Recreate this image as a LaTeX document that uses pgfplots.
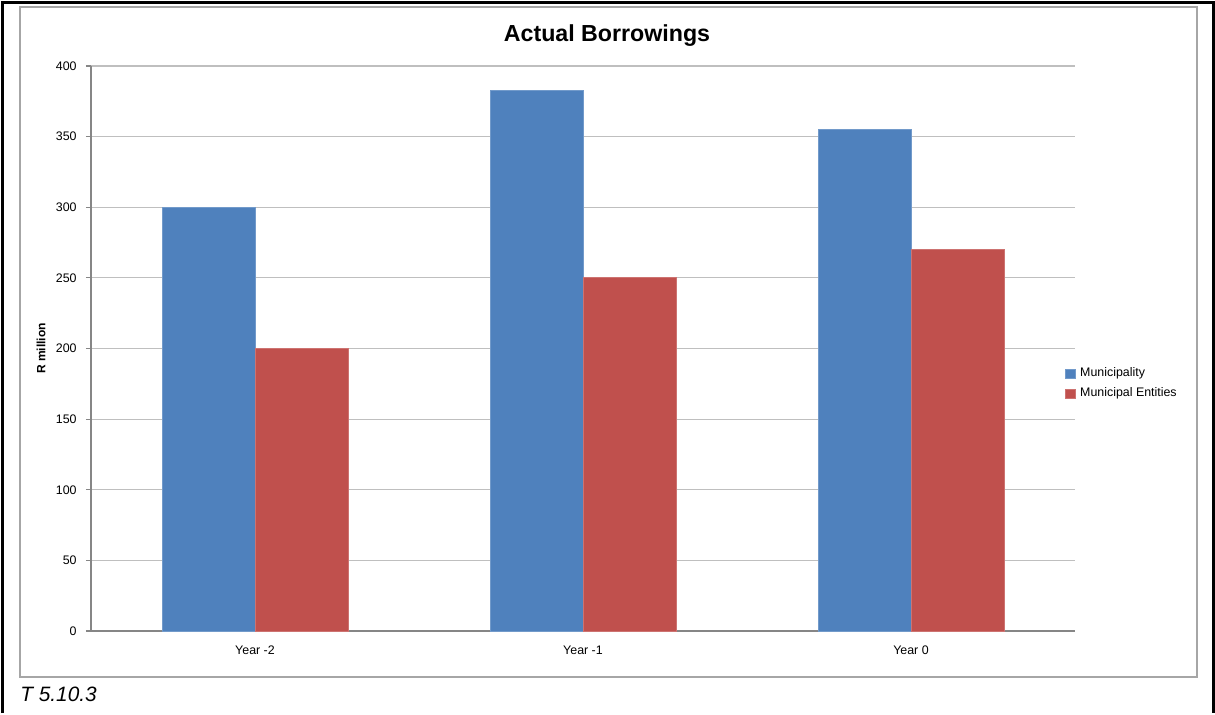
\documentclass[border=0pt]{standalone}
\usepackage{fontspec}
\setmainfont{Liberation Sans}
\usepackage{pgfplots}
\pgfplotsset{compat=1.18}
\definecolor{cblue}{HTML}{4F81BD}
\definecolor{cred}{HTML}{C0504D}
\definecolor{axisgrey}{HTML}{868686}
\definecolor{gridgrey}{HTML}{BFBFBF}
\definecolor{framegrey}{HTML}{A6A6A6}
\begin{document}
\begin{tikzpicture}
% page extent: 1 px = 0.5pt, axis origin at px (91,631)
\path[fill=white] (-45.5pt,-40pt) rectangle (562pt,315.5pt);
\draw[black,line width=1.5pt] (-44.25pt,-41pt) -- (-44.25pt,314.25pt) -- (561pt,314.25pt) -- (561pt,-41pt);
\draw[framegrey,line width=0.75pt] (-35.5pt,-23pt) rectangle (553pt,312pt);
\begin{axis}[
  at={(0,0)}, anchor=south west,
  scale only axis,
  width=492pt, height=282.5pt,
  ymin=0, ymax=400,
  xmin=-0.5, xmax=2.5,
  ytick={0,50,...,400},
  xtick={0,1,2},
  xticklabels={Year -2,Year -1,Year 0},
  ybar=0pt,
  bar width=46.5pt,
  axis x line*=bottom,
  axis y line*=left,
  axis line style={axisgrey,line width=0.75pt},
  ymajorgrids,
  grid style={gridgrey,line width=0.6pt},
  major y tick style={axisgrey,line width=0.6pt},
  major x tick style={draw=none},
  tick align=outside,
  major tick length=2.5pt,
  /pgf/number format/assume math mode=true,
  ticklabel style={font=\fontsize{6.2}{7}\selectfont, text=black},
  yticklabel style={inner sep=0pt, xshift=-4.5pt},
  xticklabel style={inner sep=0pt, text height=4.6pt, text depth=1.3pt, yshift=-4.6pt},
  ylabel={\textbf{R million}},
  ylabel style={font=\fontsize{6}{7}\selectfont, at={(axis description cs:-0.0508,0.5)}, anchor=center},
  legend style={draw=none, fill=none, at={(1.0,0.5)}, anchor=west, xshift=-5pt, yshift=-17.5pt,
    font=\fontsize{6.2}{7}\selectfont, row sep=0pt, inner sep=0pt},
  legend cell align=left,
  legend image code/.code={\fill[#1] (0pt,-2.2pt) rectangle (5pt,2.2pt);},
  clip=false,
]
\addplot[fill=cblue, draw=cblue!80!white] coordinates {(0,300) (1,383) (2,355)};
\addplot[fill=cred, draw=cred!80!white] coordinates {(0,200) (1,250) (2,270)};
\legend{Municipality, Municipal Entities}
\end{axis}
\node[font=\fontsize{11.6}{13}\selectfont\bfseries] at (258pt,297.5pt) {Actual Borrowings};
\node[font=\fontsize{10.4}{12}\selectfont\itshape, anchor=west, inner sep=0pt] at (-35.5pt,-31.5pt) {T 5.10.3};
\end{tikzpicture}
\end{document}
